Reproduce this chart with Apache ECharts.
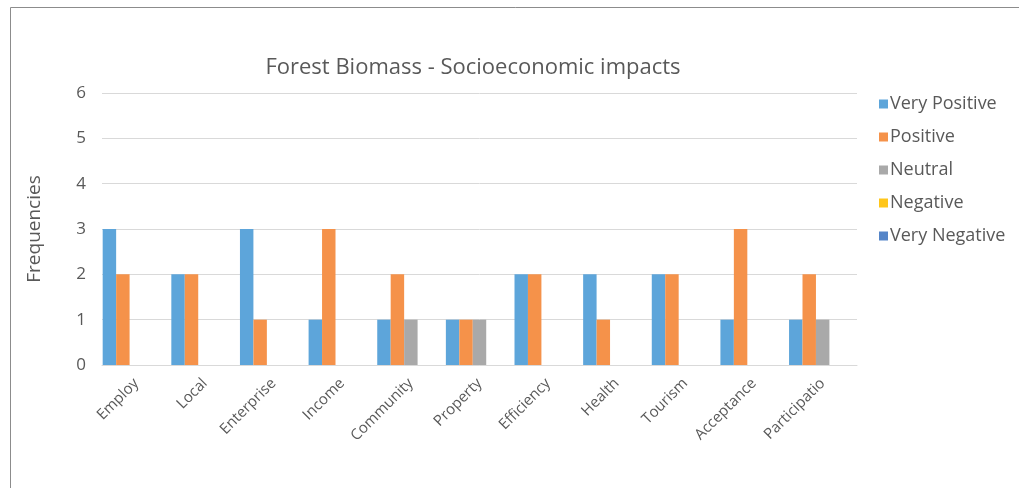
<!DOCTYPE html>
<html><head><meta charset="utf-8">
<script src="https://cdn.jsdelivr.net/npm/echarts@6/dist/echarts.min.js"></script>
<style>html,body{margin:0;padding:0;background:#fff}#c{width:1019px;height:488px}</style>
</head><body><div id="c"></div>
<script>
const categories = ['Employ','Local','Enterprise','Income','Community','Property','Efficiency','Health','Tourism','Acceptance','Participatio'];
const veryPositive = [3,2,3,1,1,1,2,2,2,1,1];
const positive     = [2,2,1,3,2,1,2,1,2,3,2];
const neutral      = [0,0,0,0,1,1,0,0,0,0,1];
const negative     = [0,0,0,0,0,0,0,0,0,0,0];
const veryNegative = [0,0,0,0,0,0,0,0,0,0,0];
const seriesNames = ['Very Positive','Positive','Neutral','Negative','Very Negative'];
const colors = ['#5DA5DA','#F5924A','#A9A9A9','#FFC61A','#5585C8'];
const font = '"Open Sans", "DejaVu Sans", sans-serif';
const chart = echarts.init(document.getElementById('c'));
const allData = [veryPositive, positive, neutral, negative, veryNegative];
chart.setOption({
  animation: false,
  graphic: [{type:'rect', shape:{x:10.5,y:7.5,width:1100,height:600}, style:{fill:'none',stroke:'#8c8c8c',lineWidth:1}, z:-1}],
  title: {text:'Forest Biomass - Socioeconomic impacts', left:468, top:52, textAlign:'center',
    textStyle:{fontFamily:font, fontSize:22, fontWeight:'normal', color:'#595959'}},
  legend: {orient:'vertical', left:874, top:90, itemWidth:9, itemHeight:9, itemGap:15, icon:'rect',
    textStyle:{fontFamily:font, fontSize:18, color:'#595959', padding:[0,0,0,-3]}},
  grid: {left:102, right:162, top:93, bottom:123, containLabel:false},
  xAxis: {type:'category', data:categories,
    axisLine:{lineStyle:{color:'#d9d9d9', width:1}}, axisTick:{show:false},
    axisLabel:{rotate:45, fontFamily:font, fontSize:15, color:'#595959', margin:16, interval:0}},
  yAxis: {type:'value', min:0, max:6, interval:1, name:'Frequencies', nameLocation:'middle', nameGap:58,
    nameTextStyle:{fontFamily:font, fontSize:19, color:'#595959'},
    axisLabel:{fontFamily:font, fontSize:17, color:'#595959', margin:16},
    splitLine:{lineStyle:{color:'#d9d9d9', width:1}}, axisLine:{show:false}, axisTick:{show:false}},
  series: seriesNames.map((n,i)=>({name:n, type:'bar', data:allData[i], barGap:'0%', barCategoryGap:'2%',
    itemStyle:{color:colors[i]}}))
});
</script></body></html>
